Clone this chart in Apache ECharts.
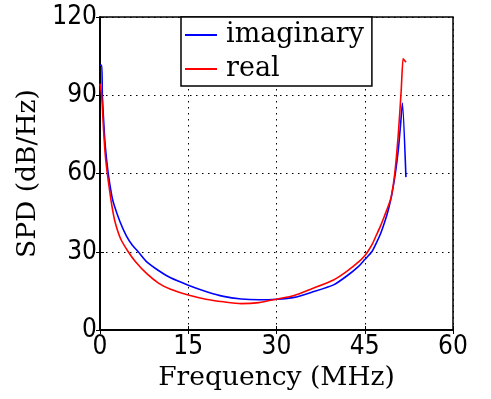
<!DOCTYPE html>
<html><head><meta charset="utf-8">
<script src="https://cdn.jsdelivr.net/npm/echarts@6/dist/echarts.min.js"></script>
<style>html,body{margin:0;padding:0;background:#fff}#c{width:491px;height:399px}</style>
</head><body><div id="c"></div>
<script>
var xTicks = [0, 15, 30, 45, 60];
var yTicks = [0, 30, 60, 90, 120];
var seriesNames = ['imaginary', 'real'];
var imagFreq = [0, 0.3, 0.4, 0.75, 1.0, 1.4, 2.0, 2.4, 3.4, 4.5, 5.5, 6.5, 8, 10, 12, 15, 18, 21, 24, 27, 30, 33, 36, 39.7, 42, 44, 45, 46.2, 47, 47.7, 48.4, 49, 49.6, 50.2, 50.7, 51.1, 51.4, 52.0];
var imagSPD = [101.5, 101.5, 90, 75, 68, 60, 51.5, 47.9, 41.5, 36, 32.5, 30, 26, 22.7, 20, 17.2, 14.8, 12.9, 11.9, 11.6, 11.8, 12.5, 14.5, 17.3, 20.8, 24.5, 27, 30, 33.5, 37, 41.5, 46, 52, 60, 69, 79, 87, 58.6];
var realFreq = [0, 0.1, 0.28, 0.6, 0.9, 1.24, 1.6, 2.0, 2.55, 3.5, 4.8, 6, 8, 10, 12, 15, 18, 21, 24, 27, 30, 33, 36, 39.7, 42, 44, 45, 45.5, 46.3, 47, 47.7, 48.4, 49, 49.5, 50.1, 50.7, 51.2, 51.5, 51.6, 52.0];
var realSPD = [94.5, 94.5, 90, 77, 67, 60, 54, 47.9, 41.5, 35, 30, 26.3, 21.5, 17.9, 15.6, 13.4, 11.8, 10.8, 10.1, 10.5, 11.8, 13.2, 15.8, 19.2, 22.6, 26.2, 28.5, 30, 33, 36.5, 40, 44, 47.5, 51, 60, 75, 92, 104, 103.8, 102.7];

function pairs(xs, ys) { return xs.map(function (x, i) { return [x, ys[i]]; }); }

var chart = echarts.init(document.getElementById('c'), null, {renderer: 'canvas'});
var tickFont = 'DejaVu Sans Condensed, DejaVu Sans';
var serif = 'DejaVu Serif';
var dotted = {color: '#000', type: [1.5, 4.5], width: 1};
var blackLine = {color: '#000', width: 1.5};
chart.setOption({
  animation: false,
  backgroundColor: '#fff',
  grid: {left: 100, top: 17, right: 38, bottom: 69, show: true, borderColor: '#000', borderWidth: 1.5, backgroundColor: 'transparent'},
  legend: {
    left: 181, top: 17, orient: 'vertical',
    data: seriesNames.map(function (n) { return {name: n, icon: 'rect'}; }),
    itemWidth: 32, itemHeight: 2, itemGap: 0,
    borderColor: '#000', borderWidth: 1.5, backgroundColor: '#fff',
    padding: [1, 8, 0, 4],
    textStyle: {fontFamily: serif, fontSize: 27, color: '#000', lineHeight: 34, padding: [0, 0, 0, 4]}
  },
  xAxis: [{
    type: 'value', min: xTicks[0], max: xTicks[xTicks.length - 1], interval: 15,
    name: 'Frequency (MHz)', nameLocation: 'middle', nameGap: 32,
    nameTextStyle: {fontFamily: serif, fontSize: 26.5, color: '#000'},
    axisLine: {show: true, lineStyle: blackLine},
    axisTick: {show: true, inside: true, length: 4, lineStyle: {color: '#000'}},
    axisLabel: {fontFamily: tickFont, fontSize: 26, color: '#000', margin: 4},
    splitLine: {show: true, lineStyle: dotted}
  }, {
    type: 'value', position: 'top', min: xTicks[0], max: xTicks[xTicks.length - 1], interval: 15,
    axisLine: {show: true, lineStyle: blackLine},
    axisTick: {show: true, inside: true, length: 4, lineStyle: {color: '#000'}},
    axisLabel: {show: false}, splitLine: {show: false}
  }],
  yAxis: [{
    type: 'value', min: yTicks[0], max: yTicks[yTicks.length - 1], interval: 30,
    name: 'SPD (dB/Hz)', nameLocation: 'middle', nameGap: 50,
    nameTextStyle: {fontFamily: serif, fontSize: 26.5, color: '#000'},
    axisLine: {show: true, lineStyle: blackLine},
    axisTick: {show: true, inside: true, length: 4, lineStyle: {color: '#000'}},
    axisLabel: {fontFamily: tickFont, fontSize: 26, color: '#000', margin: 3},
    splitLine: {show: true, lineStyle: dotted}
  }, {
    type: 'value', position: 'right', min: yTicks[0], max: yTicks[yTicks.length - 1], interval: 30,
    axisLine: {show: true, lineStyle: blackLine},
    axisTick: {show: true, inside: true, length: 4, lineStyle: {color: '#000'}},
    axisLabel: {show: false}, splitLine: {show: false}
  }],
  series: [
    {name: seriesNames[0], type: 'line', data: pairs(imagFreq, imagSPD), showSymbol: false, smooth: 0.2,
     lineStyle: {color: '#0000ff', width: 1.6}, itemStyle: {color: '#0000ff'}},
    {name: seriesNames[1], type: 'line', data: pairs(realFreq, realSPD), showSymbol: false, smooth: 0.2,
     lineStyle: {color: '#ff0000', width: 1.6}, itemStyle: {color: '#ff0000'}}
  ]
});
</script></body></html>
